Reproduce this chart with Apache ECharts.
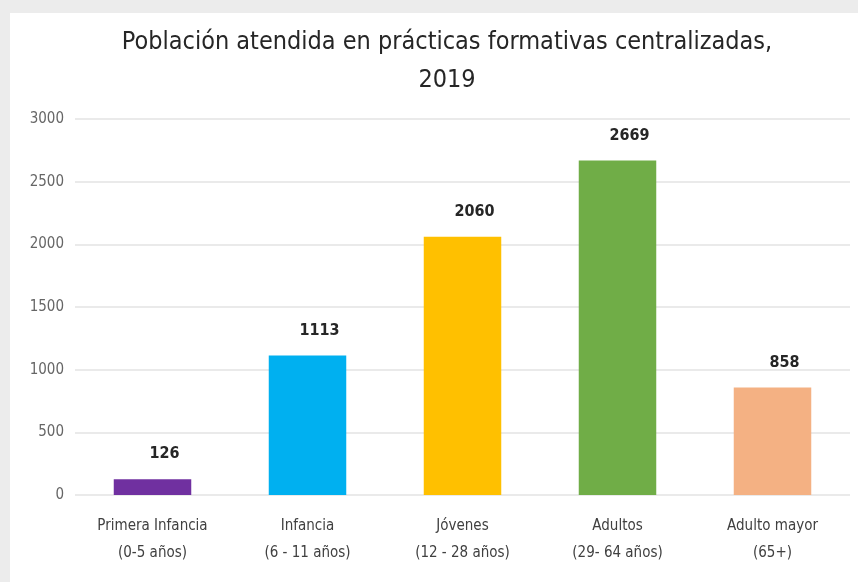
<!DOCTYPE html>
<html style="height: 100%">
<head>
    <meta charset="UTF-8">
    <title>Población atendida en prácticas formativas centralizadas, 2019</title>
    <script src="https://cdn.jsdelivr.net/npm/echarts@6.0.0/dist/echarts.min.js"></script>
    <style>
        html, body { margin: 0; padding: 0; background: #ececec; }
        #chart { width: 858px; height: 582px; }
    </style>
</head>
<body>
    <div id="chart"></div>
    <script>
        // datos
        var categories = [
            'Primera Infancia\n(0-5 años)',
            'Infancia\n(6 - 11 años)',
            'Jóvenes\n(12 - 28 años)',
            'Adultos\n(29- 64 años)',
            'Adulto mayor\n(65+)'
        ];
        var values = [126, 1113, 2060, 2669, 858];
        var barColors = ['#7030A0', '#00B0F0', '#FFC000', '#70AD47', '#F4B183'];

        var font = "'Liberation Sans Narrow', 'DejaVu Sans Condensed', sans-serif";

        var chart = echarts.init(document.getElementById('chart'));
        var option = {
            backgroundColor: '#ececec',
            graphic: [{
                type: 'rect',
                z: -10,
                shape: { x: 10, y: 13, width: 848, height: 569 },
                style: { fill: '#ffffff' }
            }],
            title: {
                text: 'Población atendida en prácticas formativas centralizadas,\n2019',
                left: 442,
                top: 18,
                textAlign: 'center',
                textStyle: {
                    fontFamily: font,
                    fontSize: 25,
                    fontWeight: 'normal',
                    color: '#262626',
                    lineHeight: 38
                }
            },
            grid: { left: 75, right: 8, top: 119, bottom: 87 },
            xAxis: {
                type: 'category',
                data: categories,
                axisLine: { show: false },
                axisTick: { show: false },
                axisLabel: {
                    margin: 18,
                    fontFamily: font,
                    fontSize: 15,
                    lineHeight: 27,
                    color: '#404040'
                }
            },
            yAxis: {
                type: 'value',
                min: 0,
                max: 3000,
                interval: 500,
                axisLine: { show: false },
                axisTick: { show: false },
                axisLabel: {
                    margin: 11,
                    fontFamily: font,
                    fontSize: 15,
                    color: '#666666',
                    formatter: function (v) { return String(v); }
                },
                splitLine: { lineStyle: { color: '#e3e3e3', width: 1.5 } }
            },
            series: [{
                type: 'bar',
                data: values,
                barWidth: '50%',
                itemStyle: {
                    color: function (p) { return barColors[p.dataIndex]; }
                },
                label: {
                    show: true,
                    position: 'top',
                    distance: 5,
                    offset: [12, -12],
                    fontFamily: font,
                    fontSize: 16,
                    fontWeight: 'bold',
                    color: '#262626'
                }
            }]
        };
        chart.setOption(option);
    </script>
</body>
</html>
